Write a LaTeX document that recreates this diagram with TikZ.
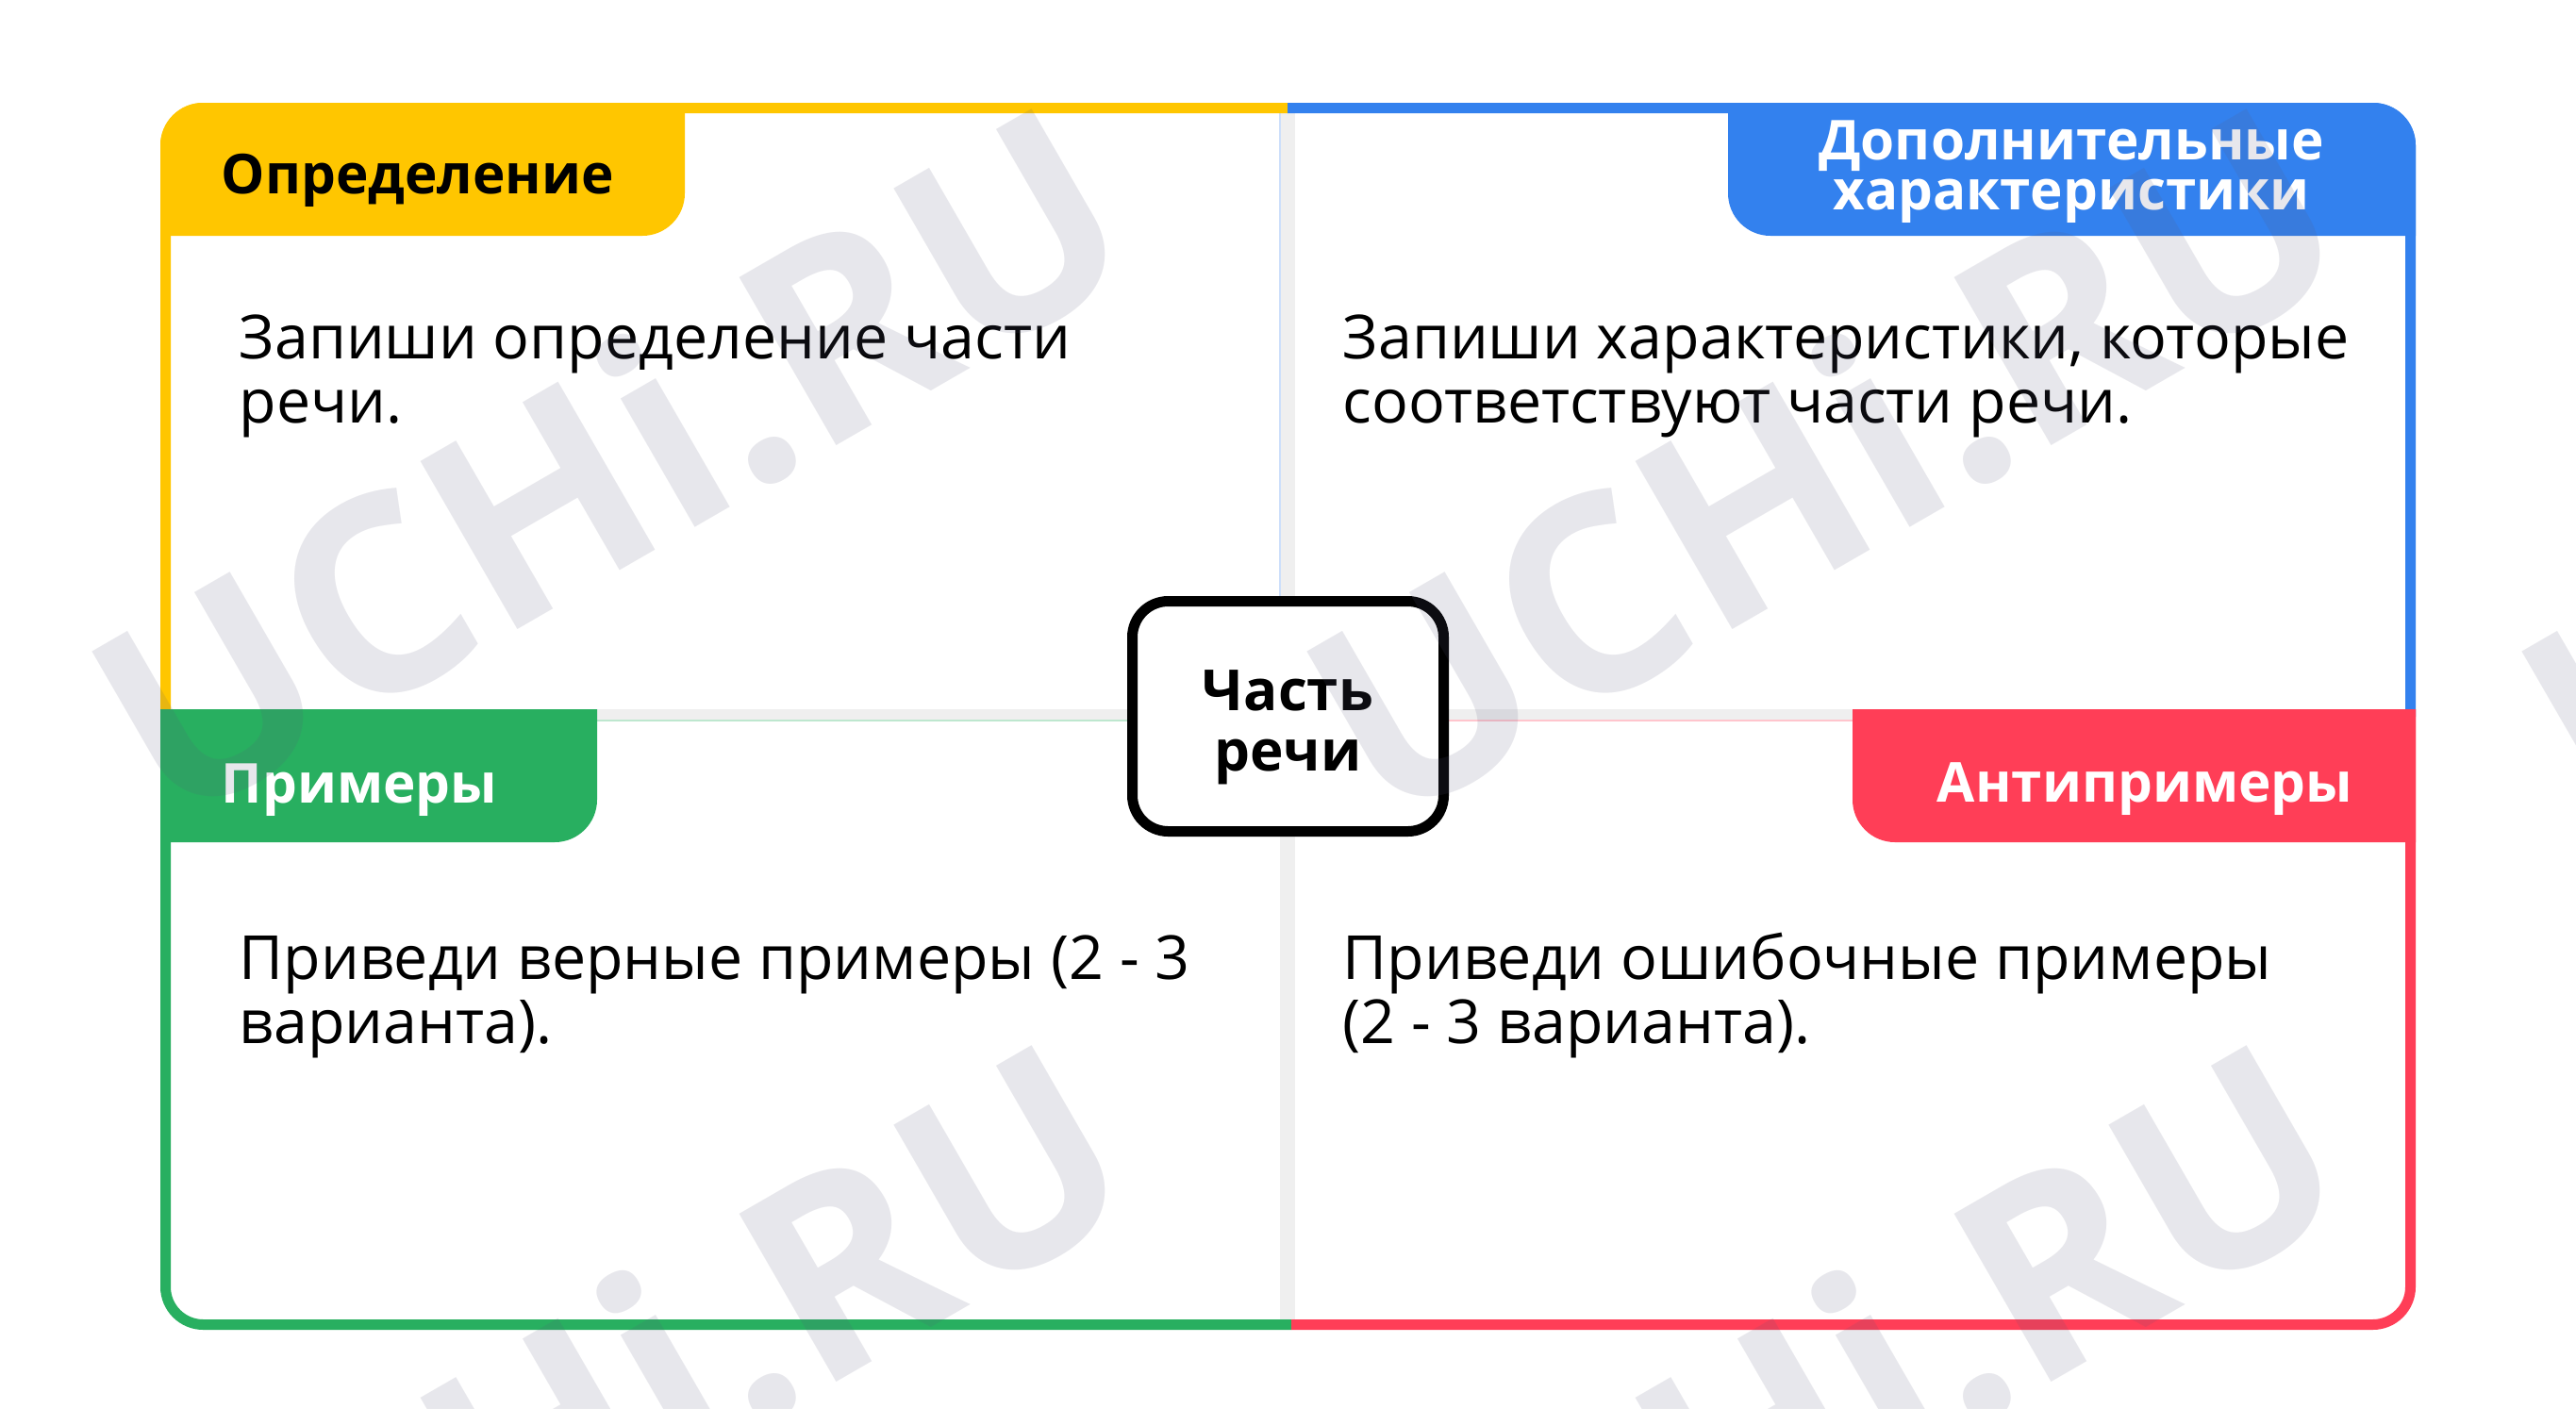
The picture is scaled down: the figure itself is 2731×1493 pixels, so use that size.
\documentclass[tikz,border=0pt]{standalone}
\usepackage{fontspec}
\setmainfont{Open Sans}
\usetikzlibrary{positioning}

\definecolor{defyellow}{HTML}{FFC600}
\definecolor{addblue}{HTML}{3381EE}
\definecolor{exgreen}{HTML}{28AF60}
\definecolor{antired}{HTML}{FF3E57}
\definecolor{divgray}{HTML}{EFEFEF}
\definecolor{markgray}{HTML}{59597A}

\tikzset{
  frameline/.style={line width=1.1mm, rounded corners=4mm},
  tabtitle/.style={font=\bfseries\fontsize{16.6pt}{14.8pt}\selectfont, inner sep=0pt},
  bodytext/.style={font=\fontsize{18.35pt}{19.35pt}\selectfont, align=left, inner sep=0pt, anchor=base west},
  centerbox/.style={draw, line width=1.1mm, rounded corners=3.8mm, fill=white, minimum width=33mm, minimum height=24.4mm},
  centertext/.style={font=\bfseries\fontsize{17.1pt}{18.2pt}\selectfont, align=center, inner sep=0pt, anchor=base},
  watermark/.style={text=markgray, text opacity=0.14, rotate=30, font=\bfseries\fontsize{82pt}{82pt}\selectfont}
}

\begin{document}
\begin{tikzpicture}[x=0.1mm, y=-0.1mm]
	\useasboundingbox (0,0) rectangle (2731,1493);
	\fill[white] (0,0) rectangle (2731,1493);

	% dividers between the quarters
	\fill[divgray] (1357,109) rectangle (1373,1410);
	\fill[divgray] (170,752) rectangle (2561,764);
	\draw[addblue!25, line width=0.15mm] (1357,120) -- (1357,752);
	\draw[exgreen!30, line width=0.15mm] (633,764) -- (1357,764);
	\draw[antired!30, line width=0.15mm] (1373,764) -- (1964,764);

	% outer frame
	\draw[frameline, defyellow] (1365,114.5) -- (175.5,114.5) -- (175.5,760);
	\draw[frameline, addblue] (1365,114.5) -- (2555.5,114.5) -- (2555.5,760);
	\draw[frameline, exgreen] (175.5,752) -- (175.5,1404.5) -- (1369,1404.5);
	\draw[frameline, antired] (1369,1404.5) -- (2555.5,1404.5) -- (2555.5,752);

	% tabs
	\fill[defyellow] (170,250) -- (170,154) arc(180:270:45) -- (726,109) -- (726,205) arc(0:90:45) -- cycle;
	\fill[addblue] (2561,250) -- (2561,154) arc(0:-90:45) -- (1832,109) -- (1832,205) arc(180:90:45) -- cycle;
	\fill[exgreen] (170,752) -- (633,752) -- (633,848) arc(0:90:45) -- (170,893) -- cycle;
	\fill[antired] (2561,752) -- (1964,752) -- (1964,848) arc(180:90:45) -- (2561,893) -- cycle;

	\node[tabtitle, anchor=base west] (defTitle) at (234,205) {Определение};
	\node[tabtitle, text=white, align=center, anchor=base] (addTitle) at (2196,222) {Дополнительные\\характеристики};
	\node[tabtitle, text=white, anchor=base west] (exTitle) at (234,851) {Примеры};
	\node[tabtitle, text=white, anchor=base east] (antiTitle) at (2495,850) {Антипримеры};

	% tasks
	\node[bodytext] (defText) at (253,448) {Запиши определение части\\речи.};
	\node[bodytext] (addText) at (1423,448) {Запиши характеристики, которые\\соответствуют части речи.};
	\node[bodytext] (exText) at (253,1106) {Приведи верные примеры (2 - 3\\варианта).};
	\node[bodytext] (antiText) at (1423,1106) {Приведи ошибочные примеры\\(2 - 3 варианта).};

	% centre
	\node[centerbox] (part) at (1365.5,759.5) {};
	\node[centertext] (partText) at (1365.5,817) {Часть\\речи};

	% watermark
	\foreach \wx in {645,1933,3221}
		\foreach \wy in {488,1481}
			\node[watermark] (mark-\wx-\wy) at (\wx,\wy) {UCHi.RU};
\end{tikzpicture}
\end{document}
